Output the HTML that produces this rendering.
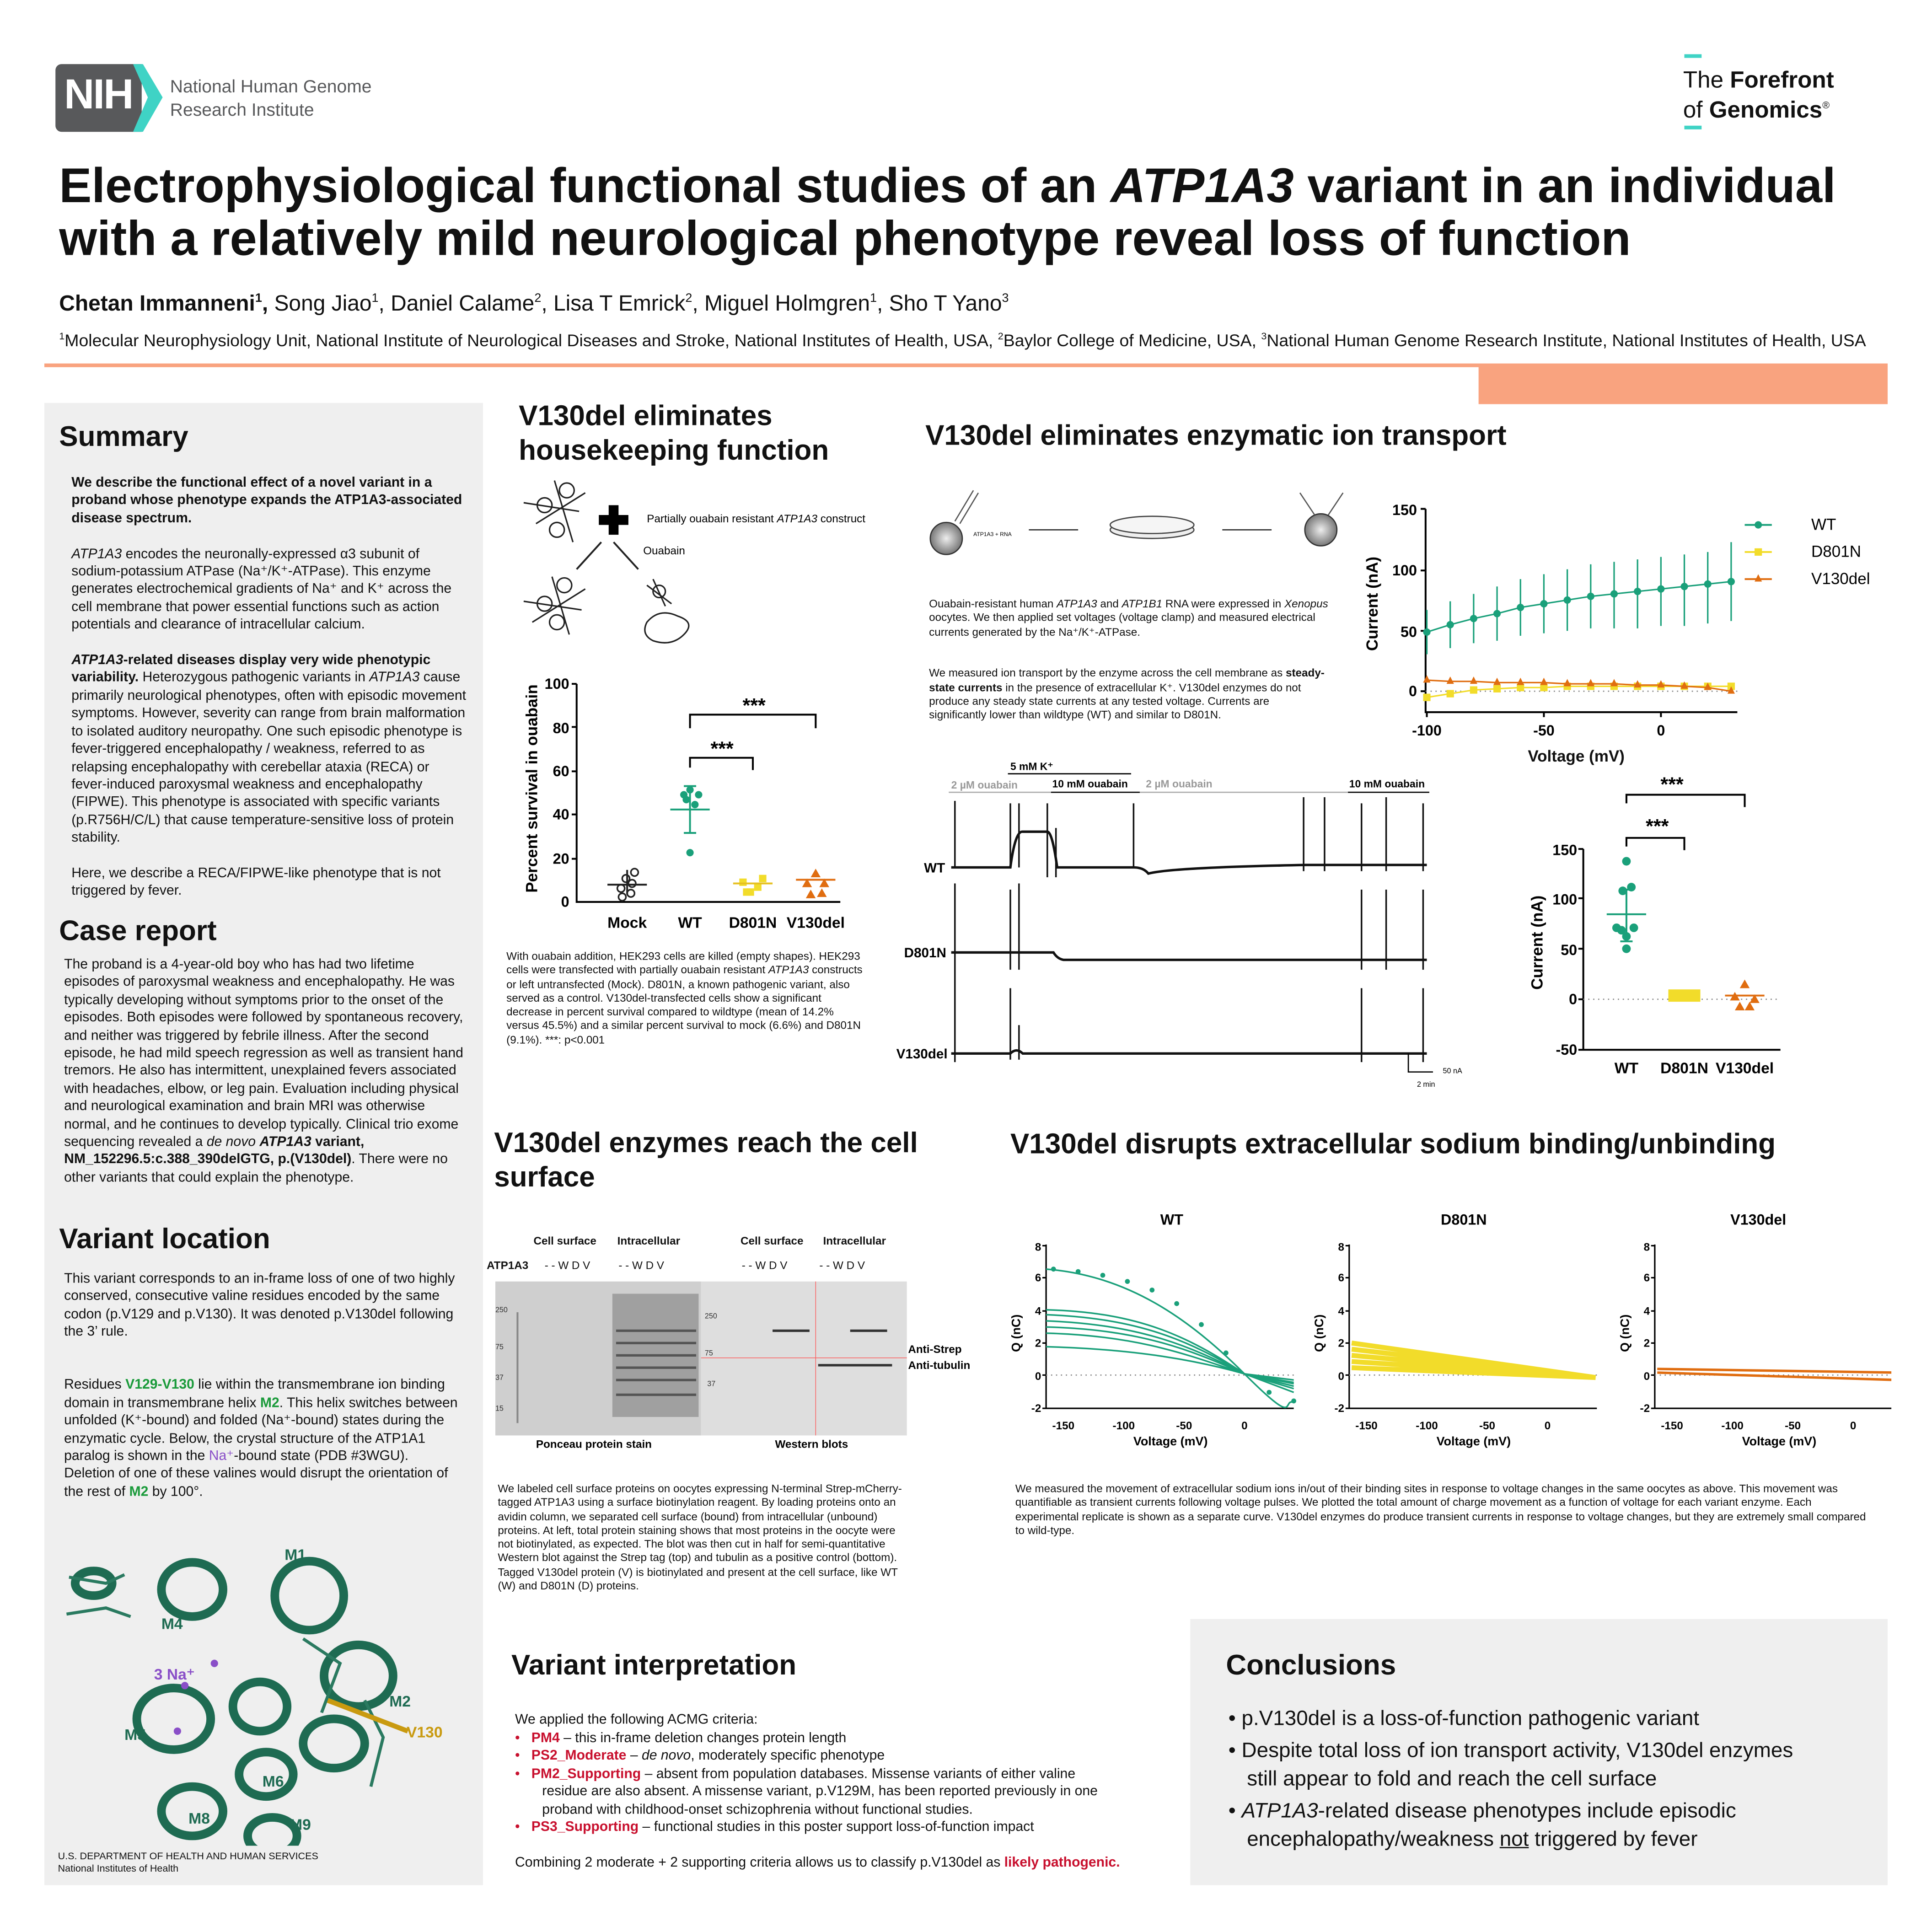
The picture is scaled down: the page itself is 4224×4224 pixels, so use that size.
<!DOCTYPE html>
<html><head><meta charset="utf-8"><style>
html,body{margin:0;padding:0;background:#fff;}
#wrap{width:4224px;height:4224px;overflow:hidden;position:relative;}
#p{position:absolute;left:0;top:0;width:1568px;height:1568px;transform:scale(2.69388);transform-origin:0 0;font-family:"Liberation Sans",Arial,sans-serif;color:#111;}
.a{position:absolute;}
.h2{font-weight:bold;font-size:23px;}
.t{font-size:11.2px;line-height:14.4px;}
.s{font-size:9px;line-height:11.3px;}
svg text{font-family:"Liberation Sans",Arial,sans-serif;}
.red{color:#c8102e;font-weight:bold;}
</style></head><body><div id="wrap"><div id="p">

<!-- header -->
<div class="a" style="left:45px;top:52px;width:70px;height:55px;background:#58595b;border-radius:5px 0 0 5px;"></div>
<div class="a" style="left:52px;top:58px;color:#fff;font-size:34px;font-weight:bold;letter-spacing:-1px;">NIH</div>
<svg class="a" style="left:108px;top:52px" width="26" height="55"><polygon points="0,0 8,0 24,27 8,55 0,55 12,27" fill="#3fd3c5"/></svg>
<div class="a" style="left:138px;top:62px;font-size:14.5px;line-height:19px;color:#58595b;">National Human Genome<br>Research Institute</div>
<div class="a" style="left:1367px;top:44px;width:14px;height:3px;background:#3fd3c5"></div>
<div class="a" style="left:1367px;top:102px;width:14px;height:3px;background:#3fd3c5"></div>
<div class="a" style="left:1366px;top:56px;font-size:19px;line-height:20px;color:#111;">The <b>Forefront</b><br>of <b>Genomics</b><sup style="font-size:8px">®</sup></div>

<div class="a" style="left:48px;top:130px;font-size:39.6px;font-weight:bold;line-height:43px;white-space:nowrap;">Electrophysiological functional studies of an <i>ATP1A3</i> variant in an individual<br>with a relatively mild neurological phenotype reveal loss of function</div>
<div class="a" style="left:48px;top:236px;font-size:17.8px;white-space:nowrap;"><b>Chetan Immanneni<sup style="font-size:10px">1</sup>,</b> Song Jiao<sup style="font-size:10px">1</sup>, Daniel Calame<sup style="font-size:10px">2</sup>, Lisa T Emrick<sup style="font-size:10px">2</sup>, Miguel Holmgren<sup style="font-size:10px">1</sup>, Sho T Yano<sup style="font-size:10px">3</sup></div>
<div class="a" style="left:48px;top:268px;font-size:13.9px;white-space:nowrap;"><sup style="font-size:8px">1</sup>Molecular Neurophysiology Unit, National Institute of Neurological Diseases and Stroke, National Institutes of Health, USA, <sup style="font-size:8px">2</sup>Baylor College of Medicine, USA, <sup style="font-size:8px">3</sup>National Human Genome Research Institute, National Institutes of Health, USA</div>
<div class="a" style="left:36px;top:295px;width:1496px;height:3px;background:#f9a37f"></div>
<div class="a" style="left:1200px;top:297px;width:332px;height:31px;background:#f9a37f"></div>

<!-- left panel -->
<div class="a" style="left:36px;top:327px;width:356px;height:1203px;background:#efefef"></div>
<div class="a h2" style="left:48px;top:341px;">Summary</div>
<div class="a t" style="left:58px;top:385px;width:322px;">
<b>We describe the functional effect of a novel variant in a proband whose phenotype expands the ATP1A3-associated disease spectrum.</b><br><br>
<i>ATP1A3</i> encodes the neuronally-expressed α3 subunit of sodium-potassium ATPase (Na⁺/K⁺-ATPase). This enzyme generates electrochemical gradients of Na⁺ and K⁺ across the cell membrane that power essential functions such as action potentials and clearance of intracellular calcium.<br><br>
<b><i>ATP1A3</i>-related diseases display very wide phenotypic variability.</b> Heterozygous pathogenic variants in <i>ATP1A3</i> cause primarily neurological phenotypes, often with episodic movement symptoms. However, severity can range from brain malformation to isolated auditory neuropathy. One such episodic phenotype is fever-triggered encephalopathy / weakness, referred to as relapsing encephalopathy with cerebellar ataxia (RECA) or fever-induced paroxysmal weakness and encephalopathy (FIPWE). This phenotype is associated with specific variants (p.R756H/C/L) that cause temperature-sensitive loss of protein stability.<br><br>
Here, we describe a RECA/FIPWE-like phenotype that is not triggered by fever.</div>
<div class="a h2" style="left:48px;top:742px;">Case report</div>
<div class="a t" style="left:52px;top:776px;width:326px;">The proband is a 4-year-old boy who has had two lifetime episodes of paroxysmal weakness and encephalopathy. He was typically developing without symptoms prior to the onset of the episodes. Both episodes were followed by spontaneous recovery, and neither was triggered by febrile illness. After the second episode, he had mild speech regression as well as transient hand tremors. He also has intermittent, unexplained fevers associated with headaches, elbow, or leg pain. Evaluation including physical and neurological examination and brain MRI was otherwise normal, and he continues to develop typically. Clinical trio exome sequencing revealed a <i>de novo</i> <b><i>ATP1A3</i> variant, NM_152296.5:c.388_390delGTG, p.(V130del)</b>. There were no other variants that could explain the phenotype.</div>
<div class="a h2" style="left:48px;top:992px;">Variant location</div>
<div class="a t" style="left:52px;top:1031px;width:322px;">This variant corresponds to an in-frame loss of one of two highly conserved, consecutive valine residues encoded by the same codon (p.V129 and p.V130). It was denoted p.V130del following the 3’ rule.<br><br><br>
Residues <b style="color:#1a9a3a">V129-V130</b> lie within the transmembrane ion binding domain in transmembrane helix <b style="color:#1a9a3a">M2</b>. This helix switches between unfolded (K⁺-bound) and folded (Na⁺-bound) states during the enzymatic cycle. Below, the crystal structure of the ATP1A1 paralog is shown in the <span style="color:#8a4fc8">Na⁺</span>-bound state (PDB #3WGU). Deletion of one of these valines would disrupt the orientation of the rest of <b style="color:#1a9a3a">M2</b> by 100°.</div>
<svg class="a" style="left:46px;top:1240px" width="340" height="258">
<g fill="none" stroke="#1e6b52" stroke-width="7">
<ellipse cx="205" cy="55" rx="28" ry="28"/><ellipse cx="110" cy="50" rx="25" ry="22"/>
<ellipse cx="95" cy="155" rx="30" ry="25"/><ellipse cx="165" cy="145" rx="22" ry="20"/>
<ellipse cx="245" cy="120" rx="28" ry="25"/><ellipse cx="225" cy="175" rx="25" ry="20"/>
<ellipse cx="170" cy="200" rx="22" ry="18"/><ellipse cx="110" cy="230" rx="25" ry="20"/>
<ellipse cx="175" cy="250" rx="20" ry="15"/><ellipse cx="30" cy="45" rx="15" ry="10"/>
</g>
<g stroke="#2a7a60" stroke-width="2.5" fill="none"><path d="M10 40 L40 45 L55 38"/><path d="M8 70 L40 65 L60 72"/><path d="M200 90 L230 110 L215 150"/><path d="M250 140 L265 170 L255 210"/></g>
<line x1="220" y1="140" x2="285" y2="165" stroke="#c99a10" stroke-width="4"/>
<circle cx="128" cy="110" r="3" fill="#8a4fc8"/><circle cx="104" cy="128" r="3" fill="#8a4fc8"/><circle cx="98" cy="165" r="3" fill="#8a4fc8"/>
<g font-weight="bold" font-size="12.5" fill="#1e6b52"><text x="185" y="26">M1</text><text x="85" y="82">M4</text><text x="270" y="145">M2</text><text x="55" y="172">M5</text><text x="167" y="210">M6</text><text x="107" y="240">M8</text><text x="189" y="245">M9</text></g>
<text x="79" y="123" font-size="12.5" font-weight="bold" fill="#8a4fc8">3 Na⁺</text>
<text x="284" y="170" font-size="12.5" font-weight="bold" fill="#c99a10">V130</text>
</svg>
<div class="a" style="left:47px;top:1502px;font-size:8px;line-height:10px;">U.S. DEPARTMENT OF HEALTH AND HUMAN SERVICES<br>National Institutes of Health</div>

<!-- housekeeping -->
<div class="a h2" style="left:421px;top:323px;line-height:28px;">V130del eliminates<br>housekeeping function</div>
<svg class="a" style="left:420px;top:380px" width="300" height="150">
<g stroke="#222" fill="none" stroke-width="1.2">
<circle cx="22" cy="30" r="6"/><circle cx="40" cy="18" r="6"/><circle cx="32" cy="50" r="6"/>
<path d="M5 28 L50 35 M30 10 L45 60 M15 45 L55 20"/>
<circle cx="22" cy="110" r="6"/><circle cx="38" cy="95" r="6"/><circle cx="32" cy="125" r="6"/>
<path d="M5 108 L52 115 M28 88 L42 135 M12 125 L55 98"/>
<circle cx="115" cy="100" r="5"/><path d="M105 95 L125 110 M110 90 L120 112"/>
<path d="M105 125 q10 -12 25 -5 q15 5 5 15 q-10 10 -25 5 q-10 -5 -5 -15z"/>
<path d="M68 60 L48 82 M78 60 L98 82" stroke-width="1.5"/>
</g>
<path d="M74 30 h8 v8 h8 v8 h-8 v8 h-8 v-8 h-8 v-8 h8z" fill="#000"/>
<text x="105" y="44" font-size="9">Partially ouabain resistant <tspan font-style="italic">ATP1A3</tspan> construct</text>
<text x="102" y="70" font-size="9">Ouabain</text>
</svg>
<svg class="a" style="left:420px;top:545px" width="290" height="215">
<text transform="translate(16,95) rotate(-90)" text-anchor="middle" font-size="13" font-weight="bold">Percent survival in ouabain</text>
<g font-size="12" font-weight="bold" text-anchor="end"><text x="42" y="14">100</text><text x="42" y="50">80</text><text x="42" y="85">60</text><text x="42" y="120">40</text><text x="42" y="156">20</text><text x="42" y="191">0</text></g>
<path d="M48 10 V187 H262 M44 10h4 M44 45h4 M44 81h4 M44 116h4 M44 152h4" stroke="#000" stroke-width="1.5" fill="none"/>
<g font-size="12.5" font-weight="bold" text-anchor="middle"><text x="89" y="208">Mock</text><text x="140" y="208">WT</text><text x="191" y="208">D801N</text><text x="242" y="208">V130del</text></g>
<path d="M140 46 V35 H242 V46 M140 78 V70 H191 V80" stroke="#000" stroke-width="1.5" fill="none"/>
<text x="192" y="33" font-size="16" font-weight="bold" text-anchor="middle">***</text>
<text x="166" y="68" font-size="16" font-weight="bold" text-anchor="middle">***</text>
<g fill="none" stroke="#222" stroke-width="1.3"><circle cx="84" cy="176" r="3"/><circle cx="93" cy="172" r="3"/><circle cx="88" cy="168" r="3"/><circle cx="95" cy="163" r="3"/><circle cx="85" cy="183" r="3"/><circle cx="92" cy="180" r="3"/></g>
<path d="M73 173 h32 M89 161 v20" stroke="#222" stroke-width="1.5"/>
<g fill="#1aa07a"><circle cx="135" cy="100" r="3"/><circle cx="144" cy="108" r="3"/><circle cx="140" cy="96" r="3"/><circle cx="147" cy="100" r="3"/><circle cx="137" cy="104" r="3"/><circle cx="140" cy="147" r="3"/></g>
<path d="M124 112 h32 M140 93 v38 M135 93h10 M135 131h10" stroke="#1aa07a" stroke-width="1.5"/>
<g fill="#f2dc2a"><rect x="180" y="168" width="6" height="6"/><rect x="192" y="172" width="6" height="6"/><rect x="186" y="176" width="6" height="6"/><rect x="196" y="165" width="6" height="6"/><rect x="183" y="176" width="6" height="6"/></g>
<path d="M175 172 h32" stroke="#e6c020" stroke-width="1.5"/>
<g fill="#e06d10"><path d="M242 160 l4 7 h-8z M235 168 l4 7 h-8z M249 168 l4 7 h-8z M238 177 l4 7 h-8z M247 176 l4 7 h-8z"/></g>
<path d="M226 169 h32" stroke="#e06d10" stroke-width="1.5"/>
</svg>
<div class="a s" style="left:411px;top:771px;width:292px;">With ouabain addition, HEK293 cells are killed (empty shapes). HEK293 cells were transfected with partially ouabain resistant <i>ATP1A3</i> constructs or left untransfected (Mock). D801N, a known pathogenic variant, also served as a control. V130del-transfected cells show a significant decrease in percent survival compared to wildtype (mean of 14.2% versus 45.5%) and a similar percent survival to mock (6.6%) and D801N (9.1%). ***: p&lt;0.001</div>

<!-- ion transport -->
<div class="a h2" style="left:751px;top:340px;">V130del eliminates enzymatic ion transport</div>
<svg class="a" style="left:750px;top:395px" width="360" height="60">
<defs><radialGradient id="g1"><stop offset="0" stop-color="#eee"/><stop offset="1" stop-color="#777"/></radialGradient></defs>
<circle cx="18" cy="42" r="13" fill="url(#g1)" stroke="#333"/><path d="M25 28 l15 -25 M29 30 l15 -25" stroke="#555"/>
<text x="40" y="40" font-size="4.5">ATP1A3 + RNA</text>
<line x1="85" y1="35" x2="125" y2="35" stroke="#333"/>
<ellipse cx="185" cy="35" rx="34" ry="7" fill="#eee" stroke="#444"/><ellipse cx="185" cy="31" rx="34" ry="7" fill="#f5f5f5" stroke="#444"/>
<line x1="242" y1="35" x2="282" y2="35" stroke="#333"/>
<circle cx="322" cy="35" r="13" fill="url(#g1)" stroke="#333"/><path d="M305 5 l12 18 M340 5 l-12 18" stroke="#555"/>
</svg>
<div class="a s" style="left:754px;top:485px;width:325px;">Ouabain-resistant human <i>ATP1A3</i> and <i>ATP1B1</i> RNA were expressed in <i>Xenopus</i> oocytes. We then applied set voltages (voltage clamp) and measured electrical currents generated by the Na⁺/K⁺-ATPase.<br><br><br>We measured ion transport by the enzyme across the cell membrane as <b>steady-state currents</b> in the presence of extracellular K⁺. V130del enzymes do not produce any steady state currents at any tested voltage. Currents are significantly lower than wildtype (WT) and similar to D801N.</div>
<!-- IV plot -->
<svg class="a" style="left:1100px;top:400px" width="440" height="210">
<text transform="translate(18,90) rotate(-90)" text-anchor="middle" font-size="13" font-weight="bold">Current (nA)</text>
<g font-size="12" font-weight="bold" text-anchor="end"><text x="50" y="18">150</text><text x="50" y="67">100</text><text x="50" y="117">50</text><text x="50" y="165">0</text></g>
<path d="M57 13 V178 H310 M53 13h4 M53 63h4 M53 112h4 M53 161h4 M58 178v4 M153 178v4 M248 178v4" stroke="#000" stroke-width="1.5" fill="none"/>
<line x1="57" y1="161" x2="310" y2="161" stroke="#888" stroke-dasharray="1,3"/>
<g font-size="12" font-weight="bold" text-anchor="middle"><text x="58" y="197">-100</text><text x="153" y="197">-50</text><text x="248" y="197">0</text></g>
<g stroke="#1aa07a" stroke-width="1.2" fill="none">
<polyline points="58,113 77,107 96,102 115,98 134,93 153,90 172,87 191,84 210,82 229,80 248,78 267,76 286,74 305,72"/>
<path d="M58 95v36 M77 88v38 M96 82v40 M115 76v44 M134 70v46 M153 66v48 M172 62v50 M191 58v52 M210 56v54 M229 54v56 M248 52v56 M267 50v58 M286 48v58 M305 40v64"/>
</g>
<g fill="#1aa07a"><circle cx="58" cy="113" r="3"/><circle cx="77" cy="107" r="3"/><circle cx="96" cy="102" r="3"/><circle cx="115" cy="98" r="3"/><circle cx="134" cy="93" r="3"/><circle cx="153" cy="90" r="3"/><circle cx="172" cy="87" r="3"/><circle cx="191" cy="84" r="3"/><circle cx="210" cy="82" r="3"/><circle cx="229" cy="80" r="3"/><circle cx="248" cy="78" r="3"/><circle cx="267" cy="76" r="3"/><circle cx="286" cy="74" r="3"/><circle cx="305" cy="72" r="3"/></g>
<polyline points="58,166 77,163 96,160 115,159 134,158 153,158 172,157 191,157 210,157 229,157 248,157 267,157 286,157 305,157" stroke="#f2dc2a" stroke-width="1.2" fill="none"/>
<g fill="#f2dc2a"><rect x="55" y="163" width="6" height="6"/><rect x="74" y="160" width="6" height="6"/><rect x="93" y="157" width="6" height="6"/><rect x="112" y="156" width="6" height="6"/><rect x="131" y="155" width="6" height="6"/><rect x="150" y="155" width="6" height="6"/><rect x="169" y="154" width="6" height="6"/><rect x="188" y="154" width="6" height="6"/><rect x="207" y="154" width="6" height="6"/><rect x="226" y="154" width="6" height="6"/><rect x="245" y="154" width="6" height="6"/><rect x="264" y="154" width="6" height="6"/><rect x="283" y="154" width="6" height="6"/><rect x="302" y="154" width="6" height="6"/></g>
<polyline points="58,152 77,153 96,153 115,154 134,154 153,154 172,155 191,155 210,155 229,156 248,156 267,157 286,158 305,161" stroke="#e06d10" stroke-width="1.2" fill="none"/>
<g fill="#e06d10"><path d="M58 148l3 6h-6z M77 149l3 6h-6z M96 149l3 6h-6z M115 150l3 6h-6z M134 150l3 6h-6z M153 150l3 6h-6z M172 151l3 6h-6z M191 151l3 6h-6z M210 151l3 6h-6z M229 152l3 6h-6z M248 152l3 6h-6z M267 153l3 6h-6z M286 154l3 6h-6z M305 157l3 6h-6z"/></g>
<line x1="316" y1="26" x2="338" y2="26" stroke="#1aa07a" stroke-width="1.5"/><circle cx="327" cy="26" r="3" fill="#1aa07a"/><text x="370" y="30" font-size="13">WT</text>
<line x1="316" y1="48" x2="338" y2="48" stroke="#f2dc2a" stroke-width="1.5"/><rect x="324" y="45" width="6" height="6" fill="#f2dc2a"/><text x="370" y="52" font-size="13">D801N</text>
<line x1="316" y1="70" x2="338" y2="70" stroke="#e06d10" stroke-width="1.5"/><path d="M327 66l3 6h-6z" fill="#e06d10"/><text x="370" y="74" font-size="13">V130del</text>
</svg>
<div class="a" style="left:1240px;top:606px;font-size:13px;font-weight:bold;">Voltage (mV)</div>
<!-- traces -->
<svg class="a" style="left:720px;top:612px" width="480" height="275">
<text x="100" y="13" font-size="8.5" font-weight="bold">5 mM K⁺</text>
<line x1="98" y1="16" x2="198" y2="16" stroke="#000"/>
<g font-size="8.5" font-weight="bold"><text x="52" y="28" fill="#999">2 µM ouabain</text><text x="134" y="27">10 mM ouabain</text><text x="210" y="27" fill="#999">2 µM ouabain</text><text x="375" y="27">10 mM ouabain</text></g>
<line x1="50" y1="31" x2="440" y2="31" stroke="#aaa"/><line x1="133" y1="31" x2="205" y2="31" stroke="#000"/><line x1="374" y1="31" x2="440" y2="31" stroke="#000"/>
<g font-size="11" font-weight="bold" text-anchor="end"><text x="47" y="96">WT</text><text x="48" y="165">D801N</text><text x="49" y="247">V130del</text></g>
<g stroke="#111" stroke-width="2" fill="none">
<path d="M52 92 H100 q4 -30 10 -29 H130 q4 0 8 29 H200 q8 0 12 5 Q230 92 340 90 H438"/>
<path d="M52 161 H135 q3 5 8 6 H438"/>
<path d="M52 243 H100 q5 -5 10 0 H438"/>
</g>
<g stroke="#111" stroke-width="1.3">
<path d="M55 38V92 M100 40V92 M107 40V92 M130 40V100 M137 60V100 M200 40V92 M338 35V95 M355 35V95 M385 40V95 M405 35V95 M435 40V95"/>
<path d="M55 105V200 M100 110V175 M107 105V175 M385 110V175 M405 110V175 M435 110V175"/>
<path d="M55 185V250 M100 190V248 M107 220V248 M385 190V250 M435 190V250"/>
</g>
<path d="M423 243V258 H443" stroke="#000" fill="none"/>
<text x="451" y="259" font-size="6">50 nA</text><text x="430" y="270" font-size="6">2 min</text>
</svg>
<!-- scatter -->
<svg class="a" style="left:1230px;top:625px" width="240" height="255">
<text x="127" y="17" font-size="16" font-weight="bold" text-anchor="middle">***</text>
<text x="115" y="51" font-size="16" font-weight="bold" text-anchor="middle">***</text>
<path d="M90 27V20H186V30 M90 62V55H137V65" stroke="#000" stroke-width="1.5" fill="none"/>
<text transform="translate(22,140) rotate(-90)" text-anchor="middle" font-size="13" font-weight="bold">Current (nA)</text>
<g font-size="12" font-weight="bold" text-anchor="end"><text x="50" y="69">150</text><text x="50" y="109">100</text><text x="50" y="150">50</text><text x="50" y="190">0</text><text x="50" y="231">-50</text></g>
<path d="M55 64V227 H215 M51 64h4 M51 104h4 M51 145h4 M51 186h4 M51 227h4" stroke="#000" stroke-width="1.5" fill="none"/>
<line x1="55" y1="186" x2="215" y2="186" stroke="#888" stroke-dasharray="1,3"/>
<g fill="#1aa07a"><circle cx="90" cy="74" r="3.5"/><circle cx="87" cy="98" r="3.5"/><circle cx="94" cy="95" r="3.5"/><circle cx="82" cy="128" r="3.5"/><circle cx="96" cy="128" r="3.5"/><circle cx="90" cy="135" r="3.5"/><circle cx="86" cy="130" r="3.5"/><circle cx="90" cy="145" r="3.5"/></g>
<path d="M74 117h32 M90 97v42 M85 97h10 M85 139h10" stroke="#1aa07a" stroke-width="1.5"/>
<g fill="#f2dc2a"><rect x="124" y="178" width="26" height="10"/></g>
<g fill="#e06d10"><path d="M186 170l4 7h-8z M178 180l4 7h-8z M194 182l4 7h-8z M182 188l4 7h-8z M190 188l4 7h-8z"/></g>
<path d="M170 183h32" stroke="#e06d10" stroke-width="1.5"/>
<g font-size="12.5" font-weight="bold" text-anchor="middle"><text x="90" y="246">WT</text><text x="137" y="246">D801N</text><text x="186" y="246">V130del</text></g>
</svg>

<!-- cell surface -->
<div class="a h2" style="left:401px;top:913px;line-height:28px;">V130del enzymes reach the cell<br>surface</div>
<div class="a" style="left:395px;top:1000px;width:400px;height:180px;font-size:9px;font-weight:bold;">
<span class="a" style="left:38px;top:2px">Cell surface</span><span class="a" style="left:106px;top:2px">Intracellular</span>
<span class="a" style="left:206px;top:2px">Cell surface</span><span class="a" style="left:273px;top:2px">Intracellular</span>
<span class="a" style="left:0px;top:22px">ATP1A3</span>
<span class="a" style="left:47px;top:22px;font-weight:normal">- - W D V</span><span class="a" style="left:107px;top:22px;font-weight:normal">- - W D V</span>
<span class="a" style="left:207px;top:22px;font-weight:normal">- -  W D V</span><span class="a" style="left:270px;top:22px;font-weight:normal">- - W D V</span>
</div>
<svg class="a" style="left:402px;top:1040px" width="400" height="140">
<rect x="0" y="0" width="167" height="125" fill="#cfcfcf"/><rect x="167" y="0" width="167" height="125" fill="#dedede"/>
<rect x="95" y="10" width="70" height="100" fill="#a0a0a0"/>
<g stroke="#555" stroke-width="2"><path d="M98 40h65 M98 50h65 M98 60h65 M98 70h65 M98 80h65 M98 92h65"/></g>
<g stroke="#888" stroke-width="1.5"><path d="M18 25v90"/></g>
<g stroke="#333" stroke-width="2"><path d="M225 40h30 M288 40h30 M262 68h60"/></g>
<line x1="167" y1="62" x2="334" y2="62" stroke="#f55" stroke-width="0.5"/><line x1="260" y1="0" x2="260" y2="125" stroke="#f55" stroke-width="0.5"/>
<g font-size="6" fill="#333"><text x="0" y="25">250</text><text x="0" y="55">75</text><text x="0" y="80">37</text><text x="0" y="105">15</text><text x="170" y="30">250</text><text x="170" y="60">75</text><text x="172" y="85">37</text></g>
<text x="335" y="58" font-size="9" font-weight="bold">Anti-Strep</text><text x="335" y="71" font-size="9" font-weight="bold">Anti-tubulin</text>
<text x="33" y="135" font-size="9" font-weight="bold">Ponceau protein stain</text><text x="227" y="135" font-size="9" font-weight="bold">Western blots</text>
</svg>
<div class="a s" style="left:404px;top:1203px;width:328px;">We labeled cell surface proteins on oocytes expressing N-terminal Strep-mCherry-tagged ATP1A3 using a surface biotinylation reagent. By loading proteins onto an avidin column, we separated cell surface (bound) from intracellular (unbound) proteins. At left, total protein staining shows that most proteins in the oocyte were not biotinylated, as expected. The blot was then cut in half for semi-quantitative Western blot against the Strep tag (top) and tubulin as a positive control (bottom). Tagged V130del protein (V) is biotinylated and present at the cell surface, like WT (W) and D801N (D) proteins.</div>

<!-- sodium binding -->
<div class="a h2" style="left:820px;top:915px;">V130del disrupts extracellular sodium binding/unbinding</div>
<svg class="a" style="left:815px;top:980px" width="720" height="200">
<g font-size="12" font-weight="bold" text-anchor="middle"><text x="136" y="14">WT</text><text x="373" y="14">D801N</text><text x="612" y="14">V130del</text></g>
<g id="ax">
<text transform="translate(13,102) rotate(-90)" text-anchor="middle" font-size="10" font-weight="bold">Q (nC)</text>
<g font-size="9" font-weight="bold" text-anchor="end"><text x="30" y="35">8</text><text x="30" y="60">6</text><text x="30" y="87">4</text><text x="30" y="113">2</text><text x="30" y="140">0</text><text x="30" y="166">-2</text></g>
<path d="M34 30V163H235 M31 31h3 M31 57h3 M31 84h3 M31 110h3 M31 136h3 M31 163h3" stroke="#000" stroke-width="1.2" fill="none"/>
<line x1="34" y1="136" x2="235" y2="136" stroke="#888" stroke-dasharray="1,3"/>
<g font-size="9" font-weight="bold" text-anchor="middle"><text x="48" y="180">-150</text><text x="97" y="180">-100</text><text x="146" y="180">-50</text><text x="195" y="180">0</text></g>
<text x="135" y="193" font-size="10" font-weight="bold" text-anchor="middle">Voltage (mV)</text>
</g>
<use href="#ax" x="246"/><use href="#ax" x="494"/>
<g stroke="#1aa07a" stroke-width="1.3" fill="none">
<path d="M34 50 C100 55 150 90 195 135 S225 155 235 158"/>
<path d="M34 83 C110 85 150 105 195 135 L235 150"/>
<path d="M34 87 C110 90 150 108 195 135 L235 147"/>
<path d="M34 92 C110 95 150 112 195 135 L235 145"/>
<path d="M34 97 C110 99 150 115 195 135 L235 143"/>
<path d="M34 102 C110 104 150 120 195 135 L235 142"/>
<path d="M34 113 C110 115 160 125 195 135 L235 140"/>
</g>
<g fill="#1aa07a"><circle cx="40" cy="50" r="2"/><circle cx="60" cy="52" r="2"/><circle cx="80" cy="55" r="2"/><circle cx="100" cy="60" r="2"/><circle cx="120" cy="67" r="2"/><circle cx="140" cy="78" r="2"/><circle cx="160" cy="95" r="2"/><circle cx="180" cy="118" r="2"/><circle cx="215" cy="150" r="2"/><circle cx="235" cy="157" r="2"/></g>
<path d="M282 110 L480 138 M282 115 L480 138 M282 120 L480 138 M282 125 L480 138 M282 130 L480 138" stroke="#f2dc2a" stroke-width="4" fill="none"/>
<path d="M530 131 L725 134 M530 134 L725 140" stroke="#e06d10" stroke-width="2" fill="none"/>
</svg>
<div class="a s" style="left:824px;top:1203px;width:700px;">We measured the movement of extracellular sodium ions in/out of their binding sites in response to voltage changes in the same oocytes as above. This movement was quantifiable as transient currents following voltage pulses. We plotted the total amount of charge movement as a function of voltage for each variant enzyme. Each experimental replicate is shown as a separate curve. V130del enzymes do produce transient currents in response to voltage changes, but they are extremely small compared to wild-type.</div>

<!-- interpretation -->
<div class="a h2" style="left:415px;top:1338px;">Variant interpretation</div>
<div class="a t" style="left:418px;top:1389px;width:490px;font-size:11.2px;line-height:14.5px;">We applied the following ACMG criteria:
<div><span style="color:#c8102e">•</span>&nbsp;&nbsp;&nbsp;<span class="red">PM4</span> – this in-frame deletion changes protein length</div>
<div><span style="color:#c8102e">•</span>&nbsp;&nbsp;&nbsp;<span class="red">PS2_Moderate</span> – <i>de novo</i>, moderately specific phenotype</div>
<div style="padding-left:22px;text-indent:-22px"><span style="color:#c8102e">•</span>&nbsp;&nbsp;&nbsp;<span class="red">PM2_Supporting</span> – absent from population databases. Missense variants of either valine residue are also absent. A missense variant, p.V129M, has been reported previously in one proband with childhood-onset schizophrenia without functional studies.</div>
<div><span style="color:#c8102e">•</span>&nbsp;&nbsp;&nbsp;<span class="red">PS3_Supporting</span> – functional studies in this poster support loss-of-function impact</div>
<div style="margin-top:14px;width:540px">Combining 2 moderate + 2 supporting criteria allows us to classify p.V130del as <span class="red">likely pathogenic.</span></div></div>

<!-- conclusions -->
<div class="a" style="left:966px;top:1314px;width:566px;height:216px;background:#efefef"></div>
<div class="a h2" style="left:995px;top:1338px;">Conclusions</div>
<div class="a" style="left:997px;top:1383px;width:476px;font-size:17px;line-height:23px;">
<div style="padding-left:15px;text-indent:-15px">• p.V130del is a loss-of-function pathogenic variant</div>
<div style="padding-left:15px;text-indent:-15px;margin-top:3px">• Despite total loss of ion transport activity, V130del enzymes still appear to fold and reach the cell surface</div>
<div style="padding-left:15px;text-indent:-15px;margin-top:3px">• <i>ATP1A3</i>-related disease phenotypes include episodic encephalopathy/weakness <u>not</u> triggered by fever</div></div>

</div></div></body></html>
